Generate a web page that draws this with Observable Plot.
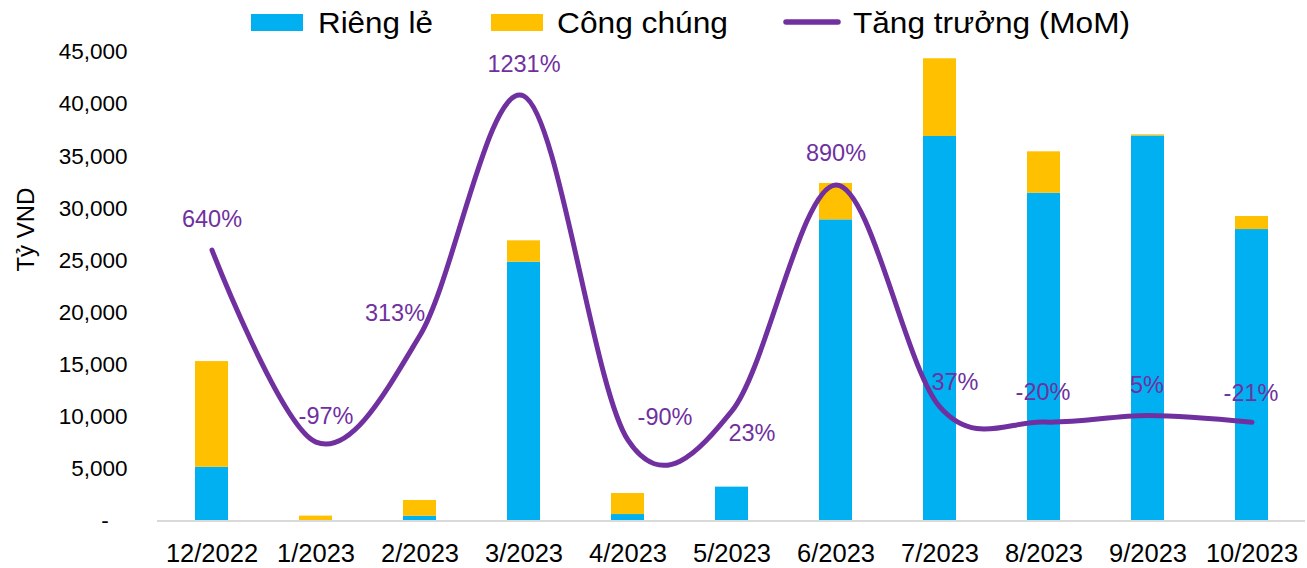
<!DOCTYPE html>
<html>
<head>
<meta charset="utf-8">
<script src="https://cdn.jsdelivr.net/npm/d3@7"></script>
<script src="https://cdn.jsdelivr.net/npm/@observablehq/plot@0.6"></script>
<style>
  html, body { margin: 0; padding: 0; background: #fff; }
  #chart { position: relative; width: 1307px; height: 568px; font-family: "Liberation Sans", Arial, sans-serif; }
  #chart svg { position: absolute; left: 0; top: 0; }
</style>
</head>
<body>
<div id="chart"></div>
<script>
// Monthly bond issuance (billion VND) split by offering type, with month-on-month growth
const months = ["12/2022", "1/2023", "2/2023", "3/2023", "4/2023", "5/2023", "6/2023", "7/2023", "8/2023", "9/2023", "10/2023"];
const privateIssue = [5160, 0, 460, 24840, 620, 3250, 28900, 36900, 31460, 36950, 27970];   // Riêng lẻ
const publicIssue  = [10140, 470, 1510, 2050, 2020, 0, 3490, 7460, 3970, 110, 1250];      // Công chúng
const growthPct    = [640, -97, 313, 1231, -90, 23, 890, 37, -20, 5, -21];               // Tăng trưởng (MoM), %
const seriesNames  = ["Riêng lẻ", "Công chúng"];
const lineName     = "Tăng trưởng (MoM)";
const yTicks       = [0, 5000, 10000, 15000, 20000, 25000, 30000, 35000, 40000, 45000];

const colors = { "Riêng lẻ": "#00B0F0", "Công chúng": "#FFC000" };
const purple = "#7030A0";
const font = "'Liberation Sans', Arial, sans-serif";

// Stacked bar rows: private at the bottom, public on top
const barRows = months.flatMap((m, i) => [
  { month: m, series: seriesNames[0], value: privateIssue[i] },
  { month: m, series: seriesNames[1], value: publicIssue[i] }
]);
const growthRows = months.map((m, i) => ({ month: m, growth: growthPct[i] }));

// Hidden secondary axis for the growth line: -400% .. 1400% spans the same height as 0 .. 45,000
const growthAxis = d3.scaleLinear().domain([-400, 1400]).range([0, 45000]);

// Label placement relative to each growth point (px)
const labelNudge = [[0, -31], [10, -26], [-25, -22], [0, -31.5], [37, -23], [20, 23], [0, -31], [15, -25], [-1, -30], [-1, -30], [-1, -29]];

const labelMarks = growthRows.map((row, i) => Plot.text([row], {
  x: "month",
  y: d => growthAxis(d.growth),
  text: d => `${d.growth}%`,
  dx: labelNudge[i][0],
  dy: labelNudge[i][1],
  fill: purple,
  fontSize: 23.5
}));

const chart = Plot.plot({
  width: 1307,
  height: 568,
  marginTop: 51.6,
  marginBottom: 47.5,
  marginLeft: 157,
  marginRight: 2,
  style: { fontFamily: font, background: "transparent", overflow: "visible" },
  x: { type: "band", domain: months, paddingInner: 0.684, paddingOuter: 0.342, label: null },
  y: { domain: [0, 45000], label: null },
  color: { domain: seriesNames, range: seriesNames.map(s => colors[s]) },
  marks: [
    Plot.barY(barRows, { x: "month", y: "value", fill: "series", order: seriesNames }),
    Plot.ruleY([0], { stroke: "#D9D9D9", strokeWidth: 2 }),
    Plot.axisY(yTicks, {
      tickSize: 0,
      tickPadding: 30,
      fontSize: 22.5,
      fill: "#000",
      tickFormat: d => d === 0 ? "-\u00a0\u00a0\u00a0" : d3.format(",")(d),
      label: null
    }),
    Plot.axisX({ tickSize: 0, tickPadding: 23, fontSize: 25.5, fill: "#000", label: null }),
    Plot.text(["Tỷ VND"], { frameAnchor: "left", dx: -131, dy: -15, rotate: -90, fontSize: 24, fill: "#000" }),
    Plot.line(growthRows, {
      x: "month",
      y: d => growthAxis(d.growth),
      curve: "cardinal",
      stroke: purple,
      strokeWidth: 5,
      strokeLinecap: "round",
      strokeLinejoin: "round"
    }),
    ...labelMarks
  ]
});

const root = document.getElementById("chart");
root.appendChild(chart);

// Legend along the top edge
const legend = d3.select(root).append("svg")
  .attr("width", 1307).attr("height", 45)
  .style("font-family", font);

const legendItems = [
  { name: seriesNames[0], kind: "rect", color: colors[seriesNames[0]], x: 251, tx: 318, tw: 115 },
  { name: seriesNames[1], kind: "rect", color: colors[seriesNames[1]], x: 491, tx: 557, tw: 171 },
  { name: lineName, kind: "line", color: purple, x: 786, tx: 853, tw: 277 }
];

for (const item of legendItems) {
  if (item.kind === "rect") {
    legend.append("rect").attr("x", item.x).attr("y", 14).attr("width", 52).attr("height", 17).attr("fill", item.color);
  } else {
    legend.append("line").attr("x1", item.x).attr("x2", item.x + 52).attr("y1", 22).attr("y2", 22)
      .attr("stroke", item.color).attr("stroke-width", 5.5).attr("stroke-linecap", "round");
  }
  legend.append("text")
    .attr("x", item.tx).attr("y", 33.3)
    .attr("font-size", 29)
    .attr("fill", "#000")
    .attr("textLength", item.tw)
    .attr("lengthAdjust", "spacingAndGlyphs")
    .text(item.name);
}
</script>
</body>
</html>
